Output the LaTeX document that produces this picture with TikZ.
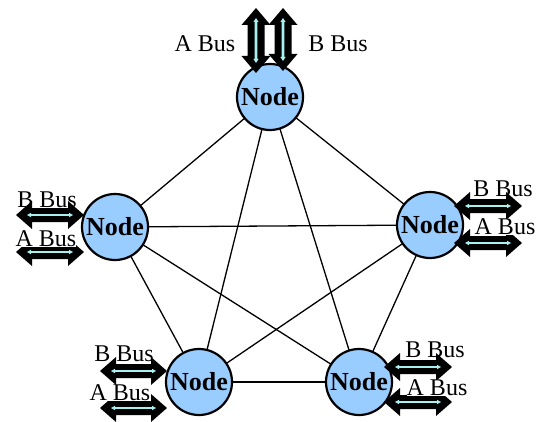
\documentclass[tikz,border=0pt]{standalone}
\usepackage{fontspec}
\setmainfont{Liberation Serif}
\definecolor{nodeblue}{HTML}{99CCFF}
\definecolor{buscyan}{HTML}{A8F0F0}
\tikzset{
  station/.style={circle, draw=black, line width=2.2pt, fill=nodeblue, minimum size=66pt, inner sep=0pt},
  stationtext/.style={font=\fontsize{26}{26}\selectfont\bfseries, inner sep=0pt},
  link/.style={line width=1.3pt, black},
  buslabel/.style={font=\fontsize{24}{24}\selectfont, inner sep=0pt},
  busbody/.style={fill=black},
  busstripe/.style={fill=buscyan},
}
% horizontal double block arrow: #1 = left tip x, #2 = right tip x, #3 = y,
% #4 = half shaft, #5 = half head, #6 = head length
\newcommand{\hbus}[6]{%
  \fill[busbody] (#1,#3) -- ({#1+#6},{#3-#5}) -- ({#1+#6},{#3-#4}) -- ({#2-#6},{#3-#4})
    -- ({#2-#6},{#3-#5}) -- (#2,#3) -- ({#2-#6},{#3+#5}) -- ({#2-#6},{#3+#4})
    -- ({#1+#6},{#3+#4}) -- ({#1+#6},{#3+#5}) -- cycle;
  \fill[busstripe] ({#1+11},#3) -- ({#1+15},{#3-2.2}) -- ({#1+15},{#3-0.9}) -- ({#2-15},{#3-0.9})
    -- ({#2-15},{#3-2.2}) -- ({#2-11},#3) -- ({#2-15},{#3+2.2}) -- ({#2-15},{#3+0.9})
    -- ({#1+15},{#3+0.9}) -- ({#1+15},{#3+2.2}) -- cycle;
}
% vertical double block arrow: #1 = x, #2 = top tip y, #3 = bottom tip y,
% #4 = half shaft, #5 = half head, #6 = head length
\newcommand{\vbus}[6]{%
  \fill[busbody] (#1,#2) -- ({#1-#5},{#2+#6}) -- ({#1-#4},{#2+#6}) -- ({#1-#4},{#3-#6})
    -- ({#1-#5},{#3-#6}) -- (#1,#3) -- ({#1+#5},{#3-#6}) -- ({#1+#4},{#3-#6})
    -- ({#1+#4},{#2+#6}) -- ({#1+#5},{#2+#6}) -- cycle;
  \fill[busstripe] (#1,{#2+10}) -- ({#1-2.6},{#2+14}) -- ({#1-1.3},{#2+14}) -- ({#1-1.3},{#3-14})
    -- ({#1-2.6},{#3-14}) -- (#1,{#3-10}) -- ({#1+2.6},{#3-14}) -- ({#1+1.3},{#3-14})
    -- ({#1+1.3},{#2+14}) -- ({#1+2.6},{#2+14}) -- cycle;
}
\begin{document}
\begin{tikzpicture}[x=1pt, y=-1pt]
\useasboundingbox[fill=white] (0,0) rectangle (540,422);

% station positions
\coordinate (top) at (270,97);
\coordinate (lft) at (115,227);
\coordinate (rgt) at (430,225);
\coordinate (bl)  at (199,382);
\coordinate (br)  at (359,382);

% full mesh of links
\foreach \a/\b in {top/lft, top/rgt, top/bl, top/br, lft/rgt, lft/bl, lft/br, rgt/bl, rgt/br, bl/br}
  \draw[link] (\a) -- (\b);

% stations
\foreach \n in {top,lft,rgt,bl,br}
  \node[station] (\n-disc) at (\n) {};

% bus arrows
\vbus{256}{8}{73}{8.5}{14.5}{17}
\vbus{283}{8}{71}{8.5}{14.5}{17}
\hbus{16}{84}{215}{7}{14}{16}
\hbus{16}{84}{252}{7}{14}{16}
\hbus{454}{522}{206}{7}{14}{16}
\hbus{454}{522}{243}{7}{14}{16}
\hbus{100}{167}{371}{7}{14}{16}
\hbus{100}{167}{408}{7}{14}{16}
\hbus{384}{452}{367}{7}{14}{16}
\hbus{384}{452}{402}{7}{14}{16}

% bus labels
\node[buslabel] (tA) at (205,44) {A Bus};
\node[buslabel] (tB) at (338,44) {B Bus};
\node[buslabel] (lB) at (47,200) {B Bus};
\node[buslabel, fill=white] (lA) at (46,239) {A Bus};
\node[buslabel] (rB) at (503,189) {B Bus};
\node[buslabel, fill=white] (rA) at (505,227) {A Bus};
\node[buslabel] (blB) at (124,354) {B Bus};
\node[buslabel, fill=white] (blA) at (120,393) {A Bus};
\node[buslabel] (brB) at (435,350) {B Bus};
\node[buslabel, fill=white] (brA) at (437,388) {A Bus};

% station names on top of everything
\foreach \n in {top,lft,rgt,bl,br}
  \node[stationtext] (\n-name) at (\n) {Node};
\end{tikzpicture}
\end{document}
